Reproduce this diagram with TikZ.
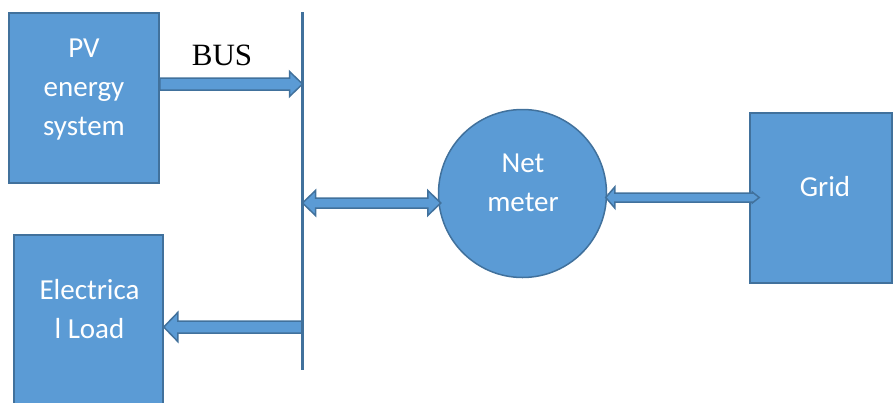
\documentclass[tikz,border=0pt]{standalone}
\usepackage{fontspec}
\setmainfont{Liberation Serif}
\newfontfamily\calfont{Carlito}
\usetikzlibrary{calc}
\definecolor{fillc}{HTML}{5B9BD5}
\definecolor{bdr}{HTML}{41719C}
\begin{document}
\begin{tikzpicture}[x=1pt,y=-1pt,
  box/.style={draw=bdr, fill=fillc, line width=1.5pt, inner sep=0pt},
  lbl/.style={text=white, font=\calfont\fontsize{29}{39}\selectfont, align=center, inner sep=0pt},
  blk/.style={draw=bdr, fill=fillc, line width=1.5pt, line join=miter},
  busline/.style={draw=bdr, line width=2.5pt}]
\useasboundingbox (0,0) rectangle (893,402);
\clip (0,0) rectangle (893,402);
% boxes
\node[box, minimum width=150pt, minimum height=170pt] (pv) at (84,98) {};
\node[box, minimum width=149pt, minimum height=175pt] (load) at (88.5,322.5) {};
\node[box, minimum width=142pt, minimum height=170pt] (grid) at (821,198) {};
\node[box, circle, minimum size=168pt] (net) at (522.5,193.5) {};
% texts
\node[lbl] (pvt) at (84,90) {PV\\energy\\system};
\node[lbl] (loadt) at (89.5,309) {Electrica\\l Load};
\node[lbl] (nett) at (523,183) {Net\\meter};
\node[lbl] (gridt) at (825,187) {Grid};
\node[font=\fontsize{31}{36}\selectfont, inner sep=0pt] (bus) at (222,55) {BUS};
% bus line
\coordinate (bustop) at (302.5,12);
\coordinate (busbot) at (302.5,370);
% PV -> bus
\path[blk] let \p1=(pv.east |- 0,84), \p2=(bustop |- 0,84) in
  (\x1,{\y1+6pt}) -- ({\x2-13pt},{\y1+6pt}) -- ({\x2-13pt},{\y1+12.5pt}) -- (\x2,\y1)
  -- ({\x2-13pt},{\y1-12.5pt}) -- ({\x2-13pt},{\y1-6pt}) -- (\x1,{\y1-6pt}) -- cycle;
% bus <-> net meter
\path[blk] let \p1=(bustop |- 0,203), \p2=(net.west |- 0,203) in
  (\x1,\y1) -- ({\x1+13pt},{\y1+12.5pt}) -- ({\x1+13pt},{\y1+5pt}) -- ({\x2+3pt-13pt},{\y1+5pt})
  -- ({\x2+3pt-13pt},{\y1+12.5pt}) -- ({\x2+3pt},\y1) -- ({\x2+3pt-13pt},{\y1-12.5pt})
  -- ({\x2+3pt-13pt},{\y1-5pt}) -- ({\x1+13pt},{\y1-5pt}) -- ({\x1+13pt},{\y1-12.5pt}) -- cycle;
% net meter <-> grid
\path[blk] let \p1=(net.east |- 0,197.5), \p2=(grid.west |- 0,197.5) in
  ({\x1-1.5pt},\y1) -- ({\x1+7.5pt},{\y1+10.5pt}) -- ({\x1+7.5pt},{\y1+4.5pt}) -- ({\x2+3pt},{\y1+4.5pt})
  -- ({\x2+3pt},{\y1+5.5pt}) -- ({\x2+10pt},\y1) -- ({\x2+3pt},{\y1-5.5pt})
  -- ({\x2+3pt},{\y1-4.5pt}) -- ({\x1+7.5pt},{\y1-4.5pt}) -- ({\x1+7.5pt},{\y1-10.5pt}) -- cycle;
% bus -> load
\path[blk] let \p1=(bustop |- 0,327), \p2=(load.east |- 0,327) in
  (\x1,{\y1+6pt}) -- ({\x2+14pt},{\y1+6pt}) -- ({\x2+14pt},{\y1+14.5pt}) -- (\x2,\y1)
  -- ({\x2+14pt},{\y1-14.5pt}) -- ({\x2+14pt},{\y1-6pt}) -- (\x1,{\y1-6pt}) -- cycle;
\draw[busline] (bustop) -- (busbot);
\end{tikzpicture}
\end{document}
